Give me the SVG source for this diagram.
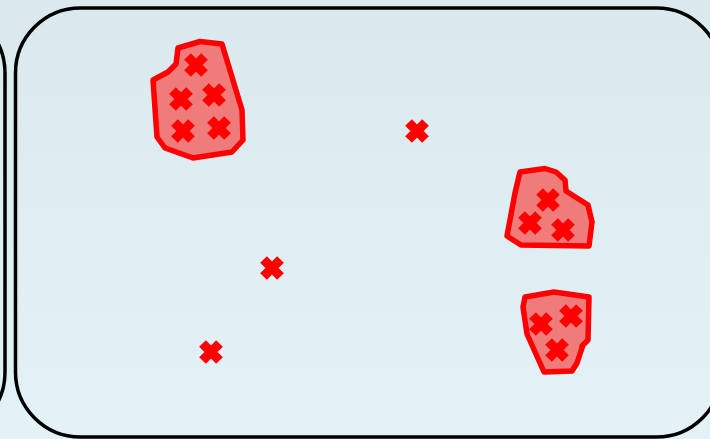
<svg xmlns="http://www.w3.org/2000/svg" width="710" height="439" viewBox="0 0 710 439">
<defs>
<linearGradient id="bg" x1="0" y1="0" x2="0" y2="1">
<stop offset="0" stop-color="#dae9ed"/>
<stop offset="1" stop-color="#e2f2f6"/>
</linearGradient>
<g id="x"><path d="M-8.5,-8.5 L8.5,8.5 M8.5,-8.5 L-8.5,8.5" stroke="#ff0000" stroke-width="9.5" fill="none"/></g>
</defs>
<style>
.box{fill:none;stroke:#000;stroke-width:3.5}
.blob{fill:#f07b7b;stroke:#ff0000;stroke-width:5.5;stroke-linejoin:round}
</style>
<rect x="0" y="0" width="710" height="439" fill="url(#bg)"/>
<g id="left-box"><rect class="box" x="-700" y="8" width="705" height="429" rx="65"/></g>
<g id="main-box"><rect class="box" x="15.5" y="8" width="706" height="429" rx="65"/></g>
<g id="cluster1">
<polygon class="blob" points="178,48 200,41.5 222,44 242,110 243,140 232,152 193,158 165,148 157,137 153,80 168,72 176,64"/>
<use href="#x" x="196" y="65"/><use href="#x" x="181" y="99"/><use href="#x" x="214" y="95"/><use href="#x" x="183" y="131"/><use href="#x" x="219" y="128"/>
</g>
<g id="cluster2">
<polygon class="blob" points="520,172 545,168.5 556,172 565,180 566,191 588,205 592,222 589,246 521,245 507,236 515,193"/>
<use href="#x" x="548" y="200"/><use href="#x" x="530" y="223"/><use href="#x" x="563" y="230"/>
</g>
<g id="cluster3">
<polygon class="blob" points="525,297 554,292 589,297 588,340 582,346 583,345 577,363 572,371 544,372 527,334 523,307"/>
<use href="#x" x="541" y="324"/><use href="#x" x="571" y="316"/><use href="#x" x="557" y="350"/>
</g>
<g id="points">
<use href="#x" x="417" y="131"/><use href="#x" x="272" y="268"/><use href="#x" x="211" y="352"/>
</g>
<g id="connectors"/>
</svg>
